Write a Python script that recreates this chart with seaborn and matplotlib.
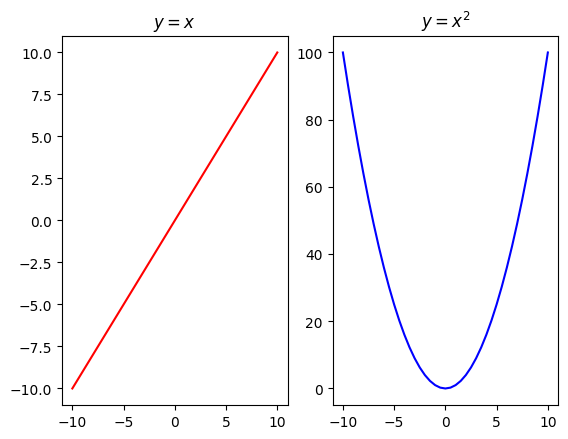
import matplotlib
matplotlib.use("Agg")
import matplotlib.pyplot as plt
import seaborn as sns

x_values = [-10.0, -9.5, -9.0, -8.5, -8.0, -7.5, -7.0, -6.5, -6.0, -5.5, -5.0,
            -4.5, -4.0, -3.5, -3.0, -2.5, -2.0, -1.5, -1.0, -0.5, 0.0,
            0.5, 1.0, 1.5, 2.0, 2.5, 3.0, 3.5, 4.0, 4.5, 5.0,
            5.5, 6.0, 6.5, 7.0, 7.5, 8.0, 8.5, 9.0, 9.5, 10.0]
linear_values = [-10.0, -9.5, -9.0, -8.5, -8.0, -7.5, -7.0, -6.5, -6.0, -5.5, -5.0,
                 -4.5, -4.0, -3.5, -3.0, -2.5, -2.0, -1.5, -1.0, -0.5, 0.0,
                 0.5, 1.0, 1.5, 2.0, 2.5, 3.0, 3.5, 4.0, 4.5, 5.0,
                 5.5, 6.0, 6.5, 7.0, 7.5, 8.0, 8.5, 9.0, 9.5, 10.0]
square_values = [100.0, 90.25, 81.0, 72.25, 64.0, 56.25, 49.0, 42.25, 36.0, 30.25, 25.0,
                 20.25, 16.0, 12.25, 9.0, 6.25, 4.0, 2.25, 1.0, 0.25, 0.0,
                 0.25, 1.0, 2.25, 4.0, 6.25, 9.0, 12.25, 16.0, 20.25, 25.0,
                 30.25, 36.0, 42.25, 49.0, 56.25, 64.0, 72.25, 81.0, 90.25, 100.0]
titles = ["$y = x$", "$y = x^2$"]

fig, axes = plt.subplots(1, 2, figsize=(6.4, 4.8), dpi=100)
sns.lineplot(x=x_values, y=linear_values, color="red", ax=axes[0])
sns.lineplot(x=x_values, y=square_values, color="blue", ax=axes[1])
for ax, t in zip(axes, titles):
    ax.set_title(t)

fig.savefig("out.png", dpi=100, bbox_inches="tight")
